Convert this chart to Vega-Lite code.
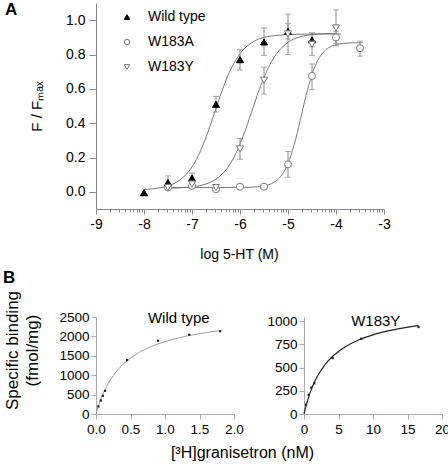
{
  "$schema": "https://vega.github.io/schema/vega-lite/v6.json",
  "padding": {"left": 2, "top": 1, "right": 0, "bottom": 0},
  "background": "white",
  "config": {
    "font": "Liberation Sans",
    "view": {"stroke": null},
    "axis": {"grid": false, "domainColor": "#888", "tickColor": "#888", "labelColor": "#000", "titleColor": "#000", "titleFontWeight": "normal", "labelFont": "Liberation Sans", "titleFont": "Liberation Sans", "labelFlush": false, "labelOverlap": false},
    "title": {"font": "Liberation Sans", "color": "#000"},
    "legend": {"labelFont": "Liberation Sans", "labelColor": "#000"}
  },
  "datasets": {
    "ptsA": [
      {"series": "Wild type", "x": -8, "y": -0.005},
      {"series": "Wild type", "x": -7.5, "y": 0.054},
      {"series": "Wild type", "x": -7, "y": 0.08},
      {"series": "Wild type", "x": -6.5, "y": 0.51},
      {"series": "Wild type", "x": -6, "y": 0.77},
      {"series": "Wild type", "x": -5.5, "y": 0.873},
      {"series": "Wild type", "x": -5, "y": 0.935},
      {"series": "Wild type", "x": -4.5, "y": 0.885},
      {"series": "W183A", "x": -7.5, "y": 0.025},
      {"series": "W183A", "x": -7, "y": 0.035},
      {"series": "W183A", "x": -6.5, "y": 0.015},
      {"series": "W183A", "x": -6, "y": 0.03},
      {"series": "W183A", "x": -5.5, "y": 0.03},
      {"series": "W183A", "x": -5, "y": 0.16},
      {"series": "W183A", "x": -4.5, "y": 0.675},
      {"series": "W183A", "x": -4, "y": 0.9},
      {"series": "W183A", "x": -3.5, "y": 0.837},
      {"series": "W183Y", "x": -7.5, "y": 0.025},
      {"series": "W183Y", "x": -7, "y": 0.045},
      {"series": "W183Y", "x": -6.5, "y": 0.025},
      {"series": "W183Y", "x": -6, "y": 0.25},
      {"series": "W183Y", "x": -5.5, "y": 0.65},
      {"series": "W183Y", "x": -5, "y": 0.92},
      {"series": "W183Y", "x": -4.5, "y": 0.86},
      {"series": "W183Y", "x": -4, "y": 0.955}
    ],
    "errA": [
      {"series": "Wild type", "x": -7.5, "lo": 0.015, "hi": 0.093},
      {"series": "Wild type", "x": -7, "lo": 0.05, "hi": 0.11},
      {"series": "Wild type", "x": -6.5, "lo": 0.465, "hi": 0.556},
      {"series": "Wild type", "x": -6, "lo": 0.71, "hi": 0.83},
      {"series": "Wild type", "x": -5.5, "lo": 0.795, "hi": 0.955},
      {"series": "Wild type", "x": -5, "lo": 0.89, "hi": 0.98},
      {"series": "Wild type", "x": -4.5, "lo": 0.845, "hi": 0.925},
      {"series": "W183A", "x": -5, "lo": 0.085, "hi": 0.235},
      {"series": "W183A", "x": -4.5, "lo": 0.595, "hi": 0.745},
      {"series": "W183A", "x": -4, "lo": 0.865, "hi": 0.935},
      {"series": "W183A", "x": -3.5, "lo": 0.79, "hi": 0.878},
      {"series": "W183Y", "x": -7, "lo": 0.02, "hi": 0.07},
      {"series": "W183Y", "x": -6, "lo": 0.19, "hi": 0.31},
      {"series": "W183Y", "x": -5.5, "lo": 0.57, "hi": 0.727},
      {"series": "W183Y", "x": -5, "lo": 0.8, "hi": 1.035},
      {"series": "W183Y", "x": -4.5, "lo": 0.795, "hi": 0.925},
      {"series": "W183Y", "x": -4, "lo": 0.85, "hi": 1.06}
    ],
    "fitA": [
      {"series": "Wild type", "x": -8, "y": 0.014},
      {"series": "Wild type", "x": -7.75, "y": 0.02},
      {"series": "Wild type", "x": -7.5, "y": 0.035},
      {"series": "Wild type", "x": -7.25, "y": 0.069},
      {"series": "Wild type", "x": -7, "y": 0.145},
      {"series": "Wild type", "x": -6.875, "y": 0.207},
      {"series": "Wild type", "x": -6.75, "y": 0.287},
      {"series": "Wild type", "x": -6.625, "y": 0.383},
      {"series": "Wild type", "x": -6.5, "y": 0.486},
      {"series": "Wild type", "x": -6.375, "y": 0.588},
      {"series": "Wild type", "x": -6.25, "y": 0.678},
      {"series": "Wild type", "x": -6.125, "y": 0.75},
      {"series": "Wild type", "x": -6, "y": 0.805},
      {"series": "Wild type", "x": -5.75, "y": 0.87},
      {"series": "Wild type", "x": -5.5, "y": 0.9},
      {"series": "Wild type", "x": -5.25, "y": 0.911},
      {"series": "Wild type", "x": -5, "y": 0.916},
      {"series": "Wild type", "x": -4.5, "y": 0.919},
      {"series": "Wild type", "x": -3.9, "y": 0.92},
      {"series": "W183Y", "x": -7.5, "y": 0.021},
      {"series": "W183Y", "x": -7, "y": 0.029},
      {"series": "W183Y", "x": -6.75, "y": 0.042},
      {"series": "W183Y", "x": -6.5, "y": 0.074},
      {"series": "W183Y", "x": -6.25, "y": 0.144},
      {"series": "W183Y", "x": -6.125, "y": 0.202},
      {"series": "W183Y", "x": -6, "y": 0.278},
      {"series": "W183Y", "x": -5.875, "y": 0.37},
      {"series": "W183Y", "x": -5.75, "y": 0.472},
      {"series": "W183Y", "x": -5.625, "y": 0.575},
      {"series": "W183Y", "x": -5.5, "y": 0.667},
      {"series": "W183Y", "x": -5.375, "y": 0.743},
      {"series": "W183Y", "x": -5.25, "y": 0.8},
      {"series": "W183Y", "x": -5, "y": 0.871},
      {"series": "W183Y", "x": -4.75, "y": 0.903},
      {"series": "W183Y", "x": -4.5, "y": 0.916},
      {"series": "W183Y", "x": -4.25, "y": 0.921},
      {"series": "W183Y", "x": -4, "y": 0.923},
      {"series": "W183A", "x": -7.5, "y": 0.025},
      {"series": "W183A", "x": -6.5, "y": 0.025},
      {"series": "W183A", "x": -6, "y": 0.026},
      {"series": "W183A", "x": -5.75, "y": 0.027},
      {"series": "W183A", "x": -5.5, "y": 0.034},
      {"series": "W183A", "x": -5.375, "y": 0.044},
      {"series": "W183A", "x": -5.25, "y": 0.063},
      {"series": "W183A", "x": -5.125, "y": 0.1},
      {"series": "W183A", "x": -5, "y": 0.166},
      {"series": "W183A", "x": -4.875, "y": 0.271},
      {"series": "W183A", "x": -4.75, "y": 0.411},
      {"series": "W183A", "x": -4.625, "y": 0.56},
      {"series": "W183A", "x": -4.5, "y": 0.684},
      {"series": "W183A", "x": -4.375, "y": 0.768},
      {"series": "W183A", "x": -4.25, "y": 0.817},
      {"series": "W183A", "x": -4, "y": 0.857},
      {"series": "W183A", "x": -3.75, "y": 0.867},
      {"series": "W183A", "x": -3.45, "y": 0.869}
    ],
    "fitB1": [
      {"x": 0, "y": 0}, {"x": 0.02, "y": 120}, {"x": 0.05, "y": 282}, {"x": 0.1, "y": 510},
      {"x": 0.15, "y": 697}, {"x": 0.2, "y": 855}, {"x": 0.3, "y": 1104}, {"x": 0.4, "y": 1293},
      {"x": 0.5, "y": 1440}, {"x": 0.6, "y": 1559}, {"x": 0.8, "y": 1738}, {"x": 1.0, "y": 1866},
      {"x": 1.2, "y": 1963}, {"x": 1.4, "y": 2038}, {"x": 1.6, "y": 2099}, {"x": 1.8, "y": 2149}
    ],
    "ptsB1": [
      {"x": 0.035, "y": 196}, {"x": 0.07, "y": 349}, {"x": 0.1, "y": 468}, {"x": 0.13, "y": 596},
      {"x": 0.45, "y": 1387}, {"x": 0.9, "y": 1889}, {"x": 1.35, "y": 2042}, {"x": 1.8, "y": 2136}
    ],
    "fitB2": [
      {"x": 0, "y": 0}, {"x": 0.25, "y": 75}, {"x": 0.5, "y": 141}, {"x": 1, "y": 252},
      {"x": 1.5, "y": 341}, {"x": 2, "y": 414}, {"x": 3, "y": 527}, {"x": 4, "y": 611},
      {"x": 5, "y": 674}, {"x": 6, "y": 725}, {"x": 8, "y": 800}, {"x": 10, "y": 853},
      {"x": 12, "y": 892}, {"x": 14, "y": 923}, {"x": 16.6, "y": 953}
    ],
    "ptsB2": [
      {"x": 0.3, "y": 100}, {"x": 0.7, "y": 206}, {"x": 1.06, "y": 285}, {"x": 1.5, "y": 331},
      {"x": 4.15, "y": 602}, {"x": 8.3, "y": 811}, {"x": 16.6, "y": 937}
    ]
  },
  "bounds": "flush",
  "spacing": 108,
  "vconcat": [
    {
      "width": 288,
      "height": 206,
      "title": {"text": "A", "anchor": "start", "frame": "group", "dx": -91, "offset": -16, "fontSize": 17, "fontWeight": "bold"},
      "layer": [
        {
          "data": {"name": "fitA"},
          "mark": {"type": "line", "color": "#777", "strokeWidth": 1, "interpolate": "monotone"},
          "encoding": {
            "x": {"field": "x", "type": "quantitative",
              "scale": {"domain": [-9, -3], "nice": false, "zero": false},
              "axis": {
                "title": "log 5-HT (M)", "titleFontSize": 14, "titleX": 143, "titleY": 49, "titleBaseline": "alphabetic",
                "tickCount": 200,
                "values": [-9, -8.699, -8.523, -8.398, -8.301, -8.222, -8.155, -8.097, -8.046,
                           -8, -7.699, -7.523, -7.398, -7.301, -7.222, -7.155, -7.097, -7.046,
                           -7, -6.699, -6.523, -6.398, -6.301, -6.222, -6.155, -6.097, -6.046,
                           -6, -5.699, -5.523, -5.398, -5.301, -5.222, -5.155, -5.097, -5.046,
                           -5, -4.699, -4.523, -4.398, -4.301, -4.222, -4.155, -4.097, -4.046,
                           -4, -3.699, -3.523, -3.398, -3.301, -3.222, -3.155, -3.097, -3.046, -3],
                "labelExpr": "abs(datum.value - round(datum.value)) < 0.001 ? '' + round(datum.value) : ''",
                "tickSize": {"condition": {"test": "abs(datum.value - round(datum.value)) < 0.001", "value": 5}, "value": 3},
                "labelFontSize": 14, "labelPadding": 3, "labelOverlap": false, "labelFlush": false
              }},
            "y": {"field": "y", "type": "quantitative",
              "scale": {"domain": [-0.1, 1.1], "nice": false, "zero": false},
              "axis": {"title": "F / Fₘₐₓ", "titleFontSize": 15, "titleX": -55, "titleBaseline": "alphabetic", "tickCount": 50,
                "values": [0, 0.2, 0.4, 0.6, 0.8, 1.0], "format": ".1f", "labelFontSize": 14, "tickSize": 7, "labelPadding": 4, "labelOverlap": false}},
            "detail": {"field": "series"}
          }
        },
        {
          "data": {"name": "errA"},
          "mark": {"type": "rule", "color": "#888", "strokeWidth": 1},
          "encoding": {
            "x": {"field": "x", "type": "quantitative"},
            "y": {"field": "lo", "type": "quantitative"},
            "y2": {"field": "hi"}
          }
        },
        {
          "data": {"name": "errA"},
          "mark": {"type": "tick", "orient": "horizontal", "size": 6, "thickness": 1, "color": "#888"},
          "encoding": {
            "x": {"field": "x", "type": "quantitative"},
            "y": {"field": "lo", "type": "quantitative"}
          }
        },
        {
          "data": {"name": "errA"},
          "mark": {"type": "tick", "orient": "horizontal", "size": 6, "thickness": 1, "color": "#888"},
          "encoding": {
            "x": {"field": "x", "type": "quantitative"},
            "y": {"field": "hi", "type": "quantitative"}
          }
        },
        {
          "data": {"name": "ptsA"},
          "mark": {"type": "point", "size": 50, "strokeWidth": 1, "opacity": 1},
          "encoding": {
            "x": {"field": "x", "type": "quantitative"},
            "y": {"field": "y", "type": "quantitative"},
            "shape": {"field": "series", "type": "nominal",
              "scale": {"domain": ["Wild type", "W183A", "W183Y"], "range": ["triangle-up", "circle", "triangle-down"]},
              "legend": {"title": null, "orient": "none", "legendX": 24, "legendY": 7, "labelFontSize": 14, "symbolSize": 30, "rowPadding": 11, "labelOffset": 14, "padding": 0, "symbolStrokeWidth": 1}},
            "fill": {"field": "series", "type": "nominal",
              "scale": {"domain": ["Wild type", "W183A", "W183Y"], "range": ["#000000", "#ffffff", "#ffffff"]},
              "legend": {"title": null, "orient": "none", "legendX": 24, "legendY": 7, "labelFontSize": 14, "symbolSize": 30, "rowPadding": 11, "labelOffset": 14, "padding": 0, "symbolStrokeWidth": 1}},
            "stroke": {"field": "series", "type": "nominal",
              "scale": {"domain": ["Wild type", "W183A", "W183Y"], "range": ["#000000", "#777777", "#777777"]},
              "legend": {"title": null, "orient": "none", "legendX": 24, "legendY": 7, "labelFontSize": 14, "symbolSize": 30, "rowPadding": 11, "labelOffset": 14, "padding": 0, "symbolStrokeWidth": 1}}
          }
        }
      ]
    },
    {
      "bounds": "flush",
      "spacing": 70,
      "title": {"text": "B", "anchor": "start", "frame": "bounds", "offset": 3, "fontSize": 17, "fontWeight": "bold"},
      "hconcat": [
        {
          "width": 138,
          "height": 97,
          "layer": [
            {
              "data": {"name": "fitB1"},
              "mark": {"type": "line", "color": "#999", "strokeWidth": 1, "interpolate": "monotone"},
              "encoding": {
                "x": {"field": "x", "type": "quantitative", "scale": {"domain": [0, 2], "nice": false},
                  "axis": {"values": [0, 0.5, 1, 1.5, 2], "tickCount": 50, "format": ".1f", "labelFontSize": 13.5, "tickSize": 5, "labelPadding": 3, "domainColor": "#aaa", "tickColor": "#aaa", "labelOverlap": false,
                    "title": "[³H]granisetron (nM)", "titleFontSize": 16, "titleX": 146, "titleY": 43.5, "titleBaseline": "alphabetic"}},
                "y": {"field": "y", "type": "quantitative", "scale": {"domain": [0, 2500], "nice": false},
                  "axis": {"values": [0, 500, 1000, 1500, 2000, 2500], "tickCount": 50, "format": "d", "labelFontSize": 13.5, "tickSize": 5, "labelPadding": 2, "domainColor": "#aaa", "tickColor": "#aaa", "labelOverlap": false,
                    "title": ["Specific binding", "(fmol/mg)"], "titleFontSize": 17, "titleX": -92, "titleY": 33, "titleBaseline": "top", "titleAlign": "center", "titleLineHeight": 20}}
              }
            },
            {
              "data": {"name": "ptsB1"},
              "mark": {"type": "square", "size": 5, "color": "#222", "opacity": 1},
              "encoding": {
                "x": {"field": "x", "type": "quantitative"},
                "y": {"field": "y", "type": "quantitative"}
              }
            },
            {
              "data": {"values": [{}]},
              "mark": {"type": "text", "fontSize": 15, "align": "center", "baseline": "alphabetic", "color": "#000"},
              "encoding": {
                "x": {"datum": 1.2, "type": "quantitative"},
                "y": {"datum": 2340, "type": "quantitative"},
                "text": {"value": "Wild type"}
              }
            }
          ]
        },
        {
          "width": 138,
          "height": 97,
          "layer": [
            {
              "data": {"name": "fitB2"},
              "mark": {"type": "line", "color": "#222", "strokeWidth": 1.2, "interpolate": "monotone"},
              "encoding": {
                "x": {"field": "x", "type": "quantitative", "scale": {"domain": [0, 20], "nice": false},
                  "axis": {"values": [0, 5, 10, 15, 20], "tickCount": 50, "format": "d", "labelFontSize": 13.5, "tickSize": 5, "labelPadding": 3, "domainColor": "#aaa", "tickColor": "#aaa", "title": null, "labelOverlap": false}},
                "y": {"field": "y", "type": "quantitative", "scale": {"domain": [0, 1045], "nice": false},
                  "axis": {"values": [0, 250, 500, 750, 1000], "tickCount": 50, "format": "d", "labelFontSize": 13.5, "tickSize": 5, "labelPadding": 2, "domainColor": "#aaa", "tickColor": "#aaa", "title": null, "labelOverlap": false}}
              }
            },
            {
              "data": {"name": "ptsB2"},
              "mark": {"type": "square", "size": 5, "color": "#222", "opacity": 1},
              "encoding": {
                "x": {"field": "x", "type": "quantitative"},
                "y": {"field": "y", "type": "quantitative"}
              }
            },
            {
              "data": {"values": [{}]},
              "mark": {"type": "text", "fontSize": 15, "align": "center", "baseline": "alphabetic", "color": "#000"},
              "encoding": {
                "x": {"datum": 10.4, "type": "quantitative"},
                "y": {"datum": 950, "type": "quantitative"},
                "text": {"value": "W183Y"}
              }
            }
          ]
        }
      ]
    }
  ]
}
